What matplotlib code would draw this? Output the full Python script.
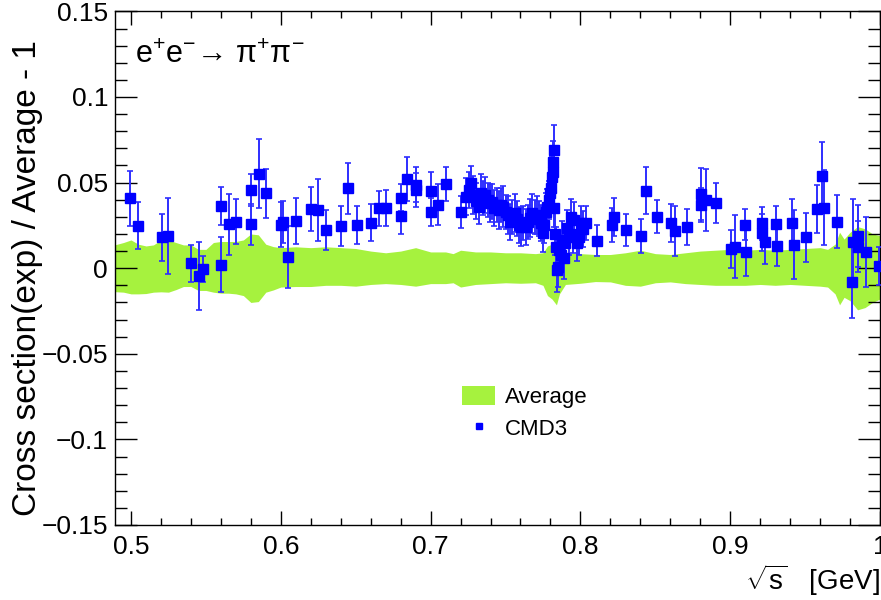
import numpy as np
import matplotlib
matplotlib.use("Agg")
import matplotlib.pyplot as plt
from matplotlib.ticker import MultipleLocator, FixedLocator, FixedFormatter
from matplotlib.patches import Patch
from matplotlib.lines import Line2D

plt.rcParams['font.family'] = ['Liberation Sans', 'DejaVu Sans']
plt.rcParams['mathtext.fontset'] = 'custom'
plt.rcParams['mathtext.rm'] = 'Liberation Sans'
plt.rcParams['mathtext.it'] = 'Liberation Sans'
plt.rcParams['mathtext.bf'] = 'Liberation Sans:bold'

# CMD3 points: sqrt(s) [GeV], relative deviation, error
cmd3_x = [
    0.4993, 0.5050, 0.5207, 0.5249, 0.5402, 0.5451, 0.5478, 0.5602, 0.5602, 0.5651,
    0.5702, 0.5804, 0.5804, 0.5853, 0.5902, 0.6002, 0.6016, 0.6051, 0.6102, 0.6200,
    0.6251, 0.6302, 0.6402, 0.6449, 0.6507, 0.6604, 0.6653, 0.6702, 0.6802, 0.6802,
    0.6844, 0.6900, 0.6900, 0.7002, 0.7002, 0.7047, 0.7104, 0.7204,
    0.7238, 0.7255, 0.7270, 0.7285, 0.7300, 0.7320, 0.7335, 0.7350, 0.7365, 0.7380,
    0.7395, 0.7410, 0.7425, 0.7440, 0.7455, 0.7470, 0.7485, 0.7500, 0.7515, 0.7530,
    0.7545, 0.7560, 0.7575, 0.7590, 0.7605, 0.7620, 0.7635, 0.7650, 0.7665, 0.7680,
    0.7695, 0.7710, 0.7725, 0.7738, 0.7749, 0.7760, 0.7770, 0.7780, 0.7789, 0.7800,
    0.7805, 0.7811, 0.7814, 0.7818, 0.7822, 0.7826, 0.7832, 0.7838, 0.7845, 0.7852,
    0.7860, 0.7870, 0.7880, 0.7890, 0.7900, 0.7912, 0.7925, 0.7935, 0.7950, 0.7960,
    0.7975, 0.7990, 0.8005, 0.8020, 0.8040,
    0.8109, 0.8211, 0.8222, 0.8305, 0.8405, 0.8440, 0.8509, 0.8607, 0.8633, 0.8709,
    0.8807, 0.8807, 0.8838, 0.8902, 0.9007, 0.9033, 0.9100, 0.9105, 0.9211, 0.9211,
    0.9231, 0.9305, 0.9311, 0.9411, 0.9427, 0.9507, 0.9582, 0.9611, 0.9627, 0.9713,
    0.9816, 0.9822, 0.9850, 0.9850, 0.9907, 0.9995,
]
cmd3_y = [
    0.0409, 0.0247, 0.0181, 0.0189, 0.0029, -0.0045, -0.0002, 0.0021, 0.0362, 0.0257,
    0.0272, 0.0457, 0.0257, 0.0553, 0.0438, 0.0253, 0.0269, 0.0066, 0.0276, 0.0344,
    0.0339, 0.0224, 0.0249, 0.0467, 0.0253, 0.0266, 0.0350, 0.0350, 0.0412, 0.0306,
    0.0520, 0.0487, 0.0457, 0.0450, 0.0329, 0.0372, 0.0491, 0.0327,
    0.0418, 0.0457, 0.0497, 0.0428, 0.0390, 0.0356, 0.0438, 0.0410, 0.0428, 0.0399,
    0.0380, 0.0389, 0.0350, 0.0370, 0.0340, 0.0370, 0.0360, 0.0330, 0.0311, 0.0272,
    0.0300, 0.0321, 0.0290, 0.0253, 0.0240, 0.0266, 0.0239, 0.0270, 0.0292, 0.0321,
    0.0300, 0.0311, 0.0290, 0.0263, 0.0204, 0.0250, 0.0331, 0.0360, 0.0399, 0.0440,
    0.0467, 0.0535, 0.0564, 0.0623, 0.0691, 0.0350, 0.0200, 0.0126, -0.0010, 0.0009,
    0.0107, 0.0080, 0.0165, 0.0058, 0.0150, 0.0234, 0.0185, 0.0301, 0.0200, 0.0282,
    0.0150, 0.0185, 0.0266, 0.0230, 0.0266,
    0.0161, 0.0253, 0.0301, 0.0224, 0.0189, 0.0452, 0.0301, 0.0263, 0.0216, 0.0239,
    0.0432, 0.0370, 0.0399, 0.0383, 0.0113, 0.0126, 0.0253, 0.0093, 0.0263, 0.0208,
    0.0152, 0.0259, 0.0132, 0.0266, 0.0138, 0.0181, 0.0344, 0.0539, 0.0354, 0.0272,
    -0.0082, 0.0155, 0.0189, 0.0126, 0.0097, 0.0013,
]
cmd3_err = [
    0.0160, 0.0137, 0.0137, 0.0220, 0.0107, 0.0200, 0.0076, 0.0160, 0.0110, 0.0178,
    0.0133, 0.0095, 0.0119, 0.0203, 0.0143, 0.0131, 0.0122, 0.0179, 0.0134, 0.0128,
    0.0182, 0.0117, 0.0117, 0.0148, 0.0112, 0.0109, 0.0103, 0.0105, 0.0079, 0.0109,
    0.0127, 0.0103, 0.0100, 0.0114, 0.0080, 0.0121, 0.0098, 0.0095,
    0.0110, 0.0105, 0.0100, 0.0110, 0.0105, 0.0100, 0.0110, 0.0100, 0.0105, 0.0100,
    0.0110, 0.0100, 0.0105, 0.0100, 0.0110, 0.0100, 0.0120, 0.0100, 0.0110, 0.0105,
    0.0100, 0.0110, 0.0100, 0.0105, 0.0110, 0.0100, 0.0105, 0.0100, 0.0110, 0.0115,
    0.0100, 0.0110, 0.0100, 0.0105, 0.0110, 0.0100, 0.0110, 0.0105, 0.0110, 0.0110,
    0.0110, 0.0120, 0.0110, 0.0120, 0.0146, 0.0110, 0.0120, 0.0115, 0.0130, 0.0120,
    0.0110, 0.0115, 0.0110, 0.0120, 0.0110, 0.0105, 0.0110, 0.0105, 0.0110, 0.0105,
    0.0110, 0.0105, 0.0100, 0.0105, 0.0100,
    0.0090, 0.0100, 0.0110, 0.0095, 0.0100, 0.0137, 0.0095, 0.0112, 0.0146, 0.0106,
    0.0153, 0.0100, 0.0180, 0.0117, 0.0112, 0.0185, 0.0091, 0.0139, 0.0097, 0.0110,
    0.0128, 0.0104, 0.0117, 0.0140, 0.0200, 0.0142, 0.0140, 0.0200, 0.0220, 0.0156,
    0.0210, 0.0250, 0.0180, 0.0150, 0.0204, 0.0110,
]

# uncertainty band of the average
band_x = [
    0.489, 0.495, 0.500, 0.505, 0.510, 0.515, 0.520, 0.525, 0.530, 0.535,
    0.540, 0.545, 0.550, 0.555, 0.560, 0.565, 0.570, 0.575, 0.580, 0.585,
    0.590, 0.595, 0.600, 0.610, 0.620, 0.630, 0.640, 0.650, 0.660, 0.670,
    0.680, 0.690, 0.700, 0.710, 0.715, 0.720, 0.730, 0.740, 0.750, 0.760,
    0.770, 0.775, 0.778, 0.781, 0.784, 0.786, 0.790, 0.800, 0.810, 0.820,
    0.830, 0.840, 0.850, 0.860, 0.870, 0.880, 0.890, 0.900, 0.910, 0.920,
    0.930, 0.940, 0.950, 0.960, 0.965, 0.970, 0.973, 0.976, 0.980, 0.985,
    0.990, 0.995, 1.000,
]
band_up = [
    0.0136, 0.0150, 0.0165, 0.0140, 0.0130, 0.0136, 0.0165, 0.0165, 0.0150, 0.0136,
    0.0136, 0.0110, 0.0110, 0.0150, 0.0156, 0.0156, 0.0156, 0.0165, 0.0200, 0.0195,
    0.0140, 0.0126, 0.0120, 0.0125, 0.0120, 0.0125, 0.0120, 0.0115, 0.0100, 0.0090,
    0.0100, 0.0120, 0.0095, 0.0095, 0.0085, 0.0105, 0.0095, 0.0095, 0.0090, 0.0090,
    0.0085, 0.0090, 0.0130, 0.0140, 0.0120, 0.0095, 0.0088, 0.0085, 0.0080, 0.0080,
    0.0090, 0.0105, 0.0085, 0.0080, 0.0090, 0.0100, 0.0105, 0.0110, 0.0105, 0.0110,
    0.0105, 0.0110, 0.0115, 0.0120, 0.0110, 0.0140, 0.0210, 0.0170, 0.0210, 0.0243,
    0.0230, 0.0200, 0.0190,
]
band_lo = [
    -0.0137, -0.0140, -0.0150, -0.0150, -0.0148, -0.0140, -0.0138, -0.0140, -0.0125, -0.0107,
    -0.0107, -0.0130, -0.0130, -0.0140, -0.0146, -0.0146, -0.0150, -0.0160, -0.0200, -0.0195,
    -0.0140, -0.0127, -0.0110, -0.0107, -0.0107, -0.0100, -0.0100, -0.0105, -0.0095, -0.0090,
    -0.0095, -0.0105, -0.0090, -0.0090, -0.0085, -0.0110, -0.0095, -0.0090, -0.0085, -0.0088,
    -0.0085, -0.0100, -0.0160, -0.0180, -0.0214, -0.0150, -0.0095, -0.0088, -0.0078, -0.0080,
    -0.0100, -0.0105, -0.0085, -0.0080, -0.0090, -0.0095, -0.0100, -0.0100, -0.0100, -0.0095,
    -0.0100, -0.0095, -0.0100, -0.0105, -0.0110, -0.0150, -0.0214, -0.0170, -0.0190, -0.0243,
    -0.0230, -0.0200, -0.0180,
]

x_ticks = [0.5, 0.6, 0.7, 0.8, 0.9, 1.0]
x_labels = ['0.5', '0.6', '0.7', '0.8', '0.9', '1']
y_ticks = [-0.15, -0.1, -0.05, 0, 0.05, 0.1, 0.15]
y_labels = ['\u22120.15', '\u22120.1', '\u22120.05', '0', '0.05', '0.1', '0.15']

band_color = '#a6f23e'
point_color = '#0000ff'

fig = plt.figure(figsize=(8.81, 6.0), dpi=100)
ax = fig.add_axes([0.1305, 0.125, 0.8684, 0.856])

ax.fill_between(band_x, band_lo, band_up, color=band_color, lw=0, zorder=1)
ax.errorbar(cmd3_x, cmd3_y, yerr=cmd3_err, fmt='s', color=point_color,
            ms=7, mec=point_color, ecolor='#2e2eff', elinewidth=1.4,
            capsize=2.5, capthick=1.2, zorder=3)

ax.set_xlim(0.4893, 1.0)
ax.set_ylim(-0.15, 0.15)

ax.xaxis.set_major_locator(FixedLocator(x_ticks))
ax.xaxis.set_major_formatter(FixedFormatter(x_labels))
ax.xaxis.set_minor_locator(MultipleLocator(0.02))
ax.yaxis.set_major_locator(FixedLocator(y_ticks))
ax.yaxis.set_major_formatter(FixedFormatter(y_labels))
ax.yaxis.set_minor_locator(MultipleLocator(0.01))

ax.tick_params(which='both', direction='in', top=True, right=True,
               width=1.0, color='black', labelsize=19)
ax.tick_params(axis='y', which='major', length=16, pad=5)
ax.tick_params(axis='y', which='minor', length=8.5)
ax.tick_params(axis='x', which='major', length=10, pad=7)
ax.tick_params(axis='x', which='minor', length=5)
for s in ax.spines.values():
    s.set_linewidth(1.0)

# process label in the upper left corner
ax.text(0.026, 0.945, 'e$^{+}$e$^{-}$\u2192 \u03c0$^{+}$\u03c0$^{-}$',
        transform=ax.transAxes, fontsize=22, ha='left', va='top')

fig.text(28 / 881, 1 - 40 / 600, 'Cross section(exp) / Average - 1',
         rotation=90, ha='center', va='top', fontsize=24)
fig.text(0.999, 1 - 580 / 600, r'$\sqrt{\mathrm{s}}$   [GeV]',
         ha='right', va='center', fontsize=20)

handles = [Patch(facecolor=band_color, edgecolor='none'),
           Line2D([], [], ls='none', marker='s', ms=5, color=point_color)]
ax.legend(handles, ['Average', 'CMD3'], loc='upper left',
          bbox_to_anchor=(0.4536, 0.2705), frameon=False, fontsize=16,
          borderpad=0, borderaxespad=0, handlelength=1.5, handleheight=0.9,
          handletextpad=0.45, labelspacing=0.45)

fig.savefig('out.png', dpi=100)
